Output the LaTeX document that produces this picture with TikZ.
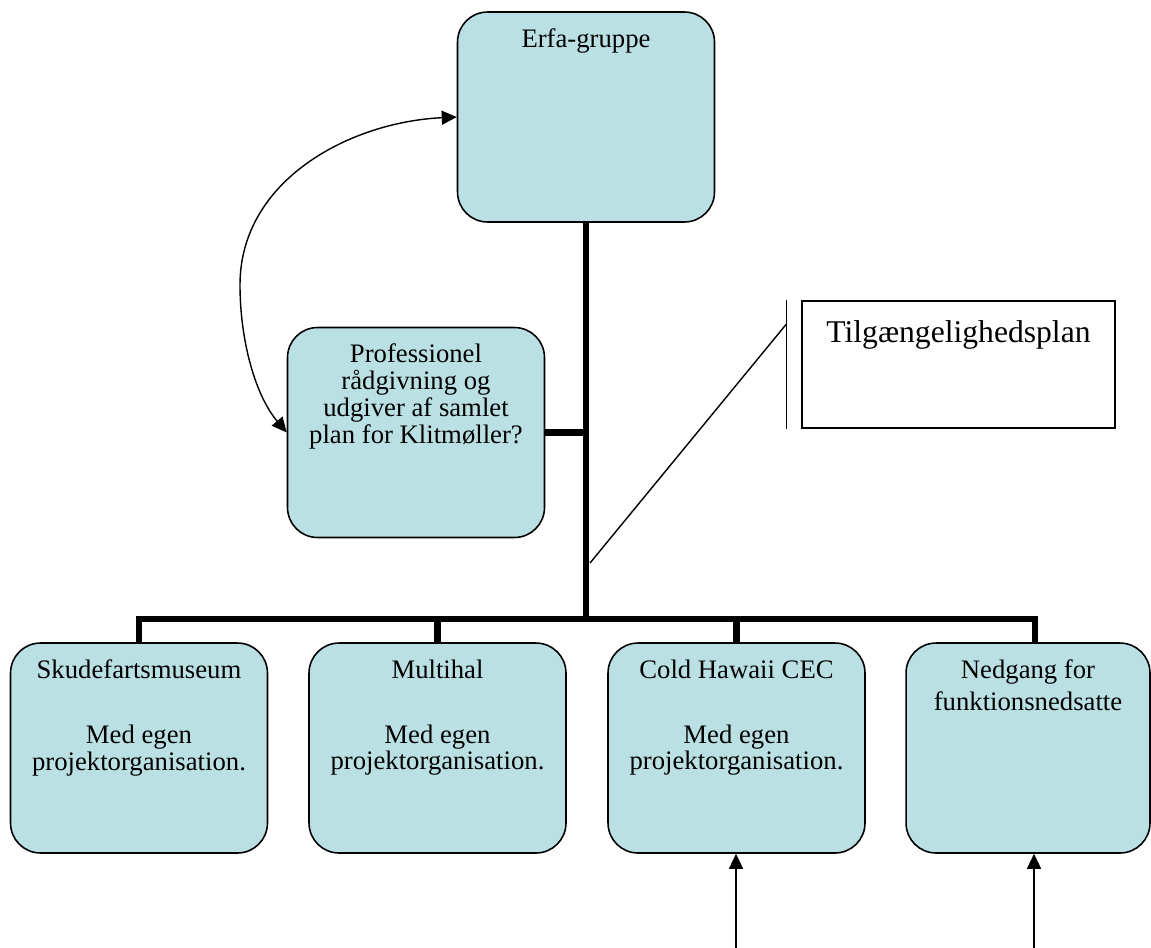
\documentclass[tikz,border=0pt]{standalone}
\usepackage{fontspec}
\setmainfont{Liberation Serif}
\usetikzlibrary{arrows.meta}
\definecolor{boxblue}{RGB}{187,224,227}
\tikzset{
  orgbox/.style={draw,line width=0.9pt,fill=boxblue,rounded corners=0.6cm,
    minimum width=5.14cm,minimum height=4.2cm,inner sep=0pt},
  boxtext/.style={anchor=north,align=center,inner sep=0pt,yshift=-0.34cm,
    font=\fontsize{15.2}{15.3}\selectfont},
  bus/.style={line width=3.6pt},
  leader/.style={line width=0.8pt},
  tri/.style={line width=0.8pt,-{Triangle[length=0.3cm,width=0.28cm]}},
  dbltri/.style={line width=0.8pt,{Triangle[length=0.3cm,width=0.28cm]}-{Triangle[length=0.3cm,width=0.28cm]}}
}
\begin{document}
\begin{tikzpicture}[x=0.02cm,y=-0.02cm]
\useasboundingbox (0,0) rectangle (1151,947);
% top and side boxes
\node[orgbox,label={[boxtext]north:{Erfa-gruppe}}] (erfa) at (586,117) {};
\node[orgbox,label={[boxtext]north:{Professionel\\r{\aa}dgivning og\\udgiver af samlet\\plan for Klitm{\o}ller?}}]
  (prof) at (416,432.5) {};
% bottom row
\foreach \name/\x/\w/\texn in {
  n1/139/5.14/{Skudefartsmuseum\\[0.76cm]Med egen\\projektorganisation.},
  n2/437.5/5.14/{Multihal\\[0.76cm]Med egen\\projektorganisation.},
  n3/736.5/5.14/{Cold Hawaii CEC\\[0.76cm]Med egen\\projektorganisation.},
  n4/1028/4.88/{Nedgang for\\[0.1cm]funktionsnedsatte}}
  \node[orgbox,minimum width=\w cm,label={[boxtext]north:{\texn}}] (\name) at (\x,748) {};
% callout
\node[draw,line width=0.9pt,minimum width=6.26cm,minimum height=2.54cm,
  label={[boxtext,yshift=-0.05cm,font=\fontsize{18}{20}\selectfont]north:{Tilg{\ae}ngelighedsplan}}]
  (tilg) at (958.5,364.5) {};
\coordinate (hub) at (erfa.south |- 0,619);
\coordinate (bartop) at ([xshift=-0.3cm]tilg.north west);
\coordinate (pin) at (590,563);
\coordinate (swing) at (240,285);
\coordinate (foot3) at (736,960);
\coordinate (foot4) at (1034,960);
% lines
\draw[bus] (erfa.south) -- (hub);
\draw[bus] (prof.east) -- (prof.east -| hub);
\foreach \name/\dx in {n1/0,n2/0,n3/0,n4/0.14}
  \draw[bus] (hub) -| ([xshift=\dx cm]\name.north);
\draw[leader] (bartop) -- ([xshift=-0.3cm]tilg.south west);
\draw[leader] ([yshift=-0.48cm]bartop) -- (pin);
\draw[dbltri] (prof.west) .. controls (255,395) and (240,340) .. (swing)
  .. controls (240,180) and (350,122) .. (erfa.west);
\draw[tri] (foot3) -- (foot3 |- n3.south);
\draw[tri] (foot4) -- (foot4 |- n4.south);
\end{tikzpicture}
\end{document}
